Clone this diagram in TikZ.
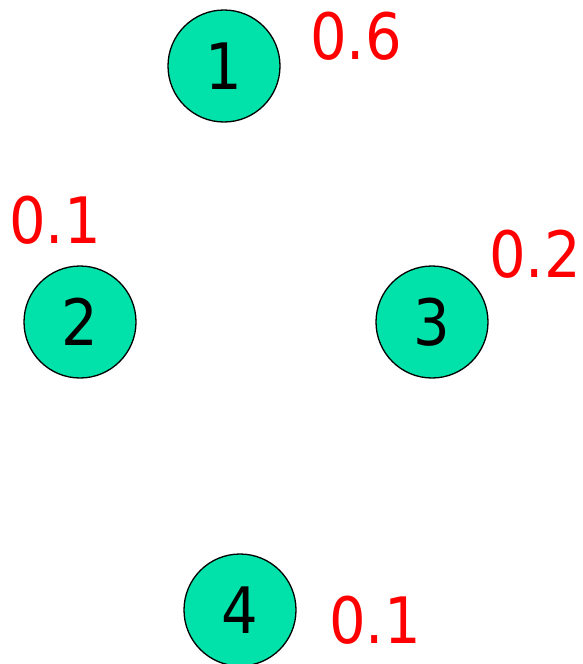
\documentclass[tikz,border=0pt]{standalone}
\usepackage{fontspec}
\setmainfont{DejaVu Sans Condensed}
\definecolor{nodefill}{RGB}{0,226,170}
\begin{document}
\begin{tikzpicture}[x=1pt,y=-1pt,
  state/.style={circle,draw=black,line width=1.3pt,fill=nodefill,minimum size=112pt,inner sep=0pt,font=\fontsize{64}{66}\selectfont},
  prob/.style={text=red,inner sep=0pt,font=\fontsize{64}{66}\selectfont}]
\useasboundingbox (0,0) rectangle (583,664);
\node[state] (n1) at (224,66) {1};
\node[state] (n2) at (80,322) {2};
\node[state] (n3) at (432,322) {3};
\node[state] (n4) at (240,610) {4};
\node[prob] (p1) at (356,36) {0.6};
\node[prob] (p2) at (55,220) {0.1};
\node[prob] (p3) at (535,254) {0.2};
\node[prob] (p4) at (375,620) {0.1};
\end{tikzpicture}
\end{document}
